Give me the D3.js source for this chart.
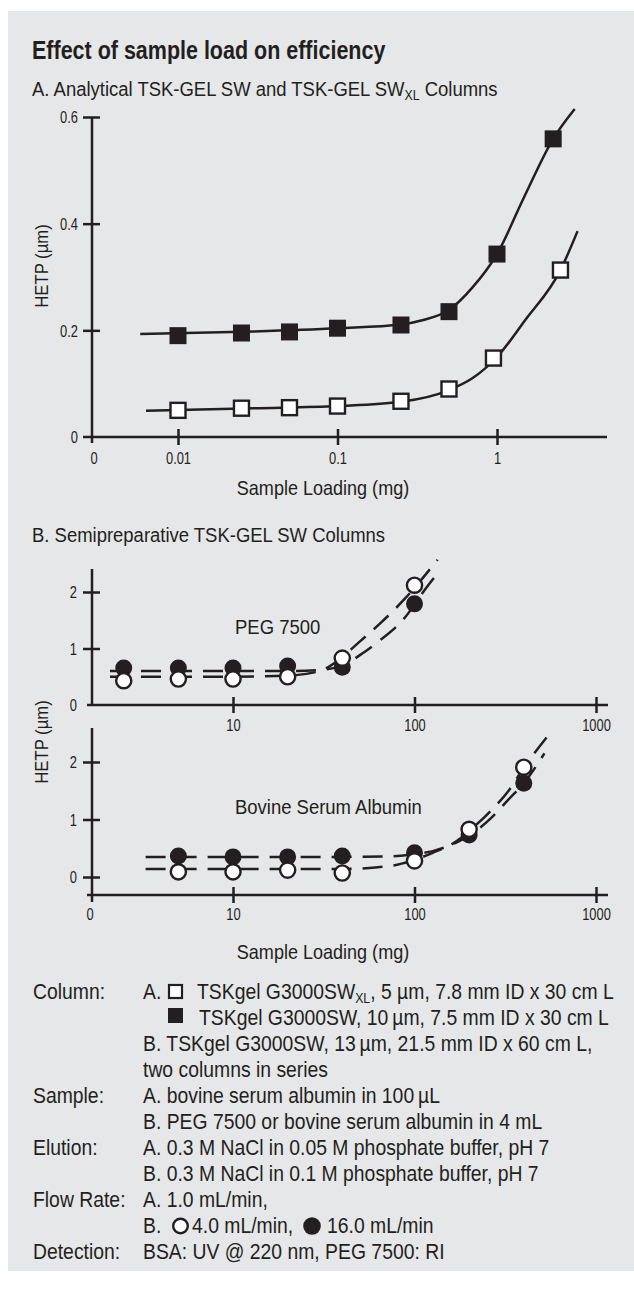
<!DOCTYPE html>
<html>
<head>
<meta charset="utf-8">
<script src="https://cdn.jsdelivr.net/npm/d3@7"></script>
<style>
  body { margin: 0; background: #fff; }
  svg text { font-family: "Liberation Sans", Arial, sans-serif; fill: #231f20; }
</style>
</head>
<body>
<div id="chart"></div>
<script>
// ---- data ----
// A. analytical columns (sample load in mg, HETP)
var loadSW = [0.01, 0.025, 0.05, 0.1, 0.25, 0.5, 1, 2.25];
var hetpSW = [0.19, 0.195, 0.197, 0.204, 0.21, 0.235, 0.343, 0.559];
var loadSWXL = [0.01, 0.025, 0.05, 0.1, 0.25, 0.5, 0.95, 2.5];
var hetpSWXL = [0.05, 0.054, 0.055, 0.058, 0.067, 0.09, 0.148, 0.313];
// fitted curves
var fitSW = [[0.0058, 0.193], [0.03, 0.198], [0.1, 0.204], [0.25, 0.211], [0.34, 0.219], [0.5, 0.238], [0.7, 0.28], [1, 0.343], [1.48, 0.45], [2.25, 0.559], [3.07, 0.615]];
var fitSWXL = [[0.0063, 0.049], [0.03, 0.054], [0.1, 0.058], [0.25, 0.066], [0.5, 0.088], [0.7, 0.11], [1, 0.15], [1.5, 0.219], [2.5, 0.313], [3.2, 0.386]];

// B. semipreparative, PEG 7500
var loadPEG = [2.5, 5, 10, 20, 40, 100];
var pegLow = [0.43, 0.46, 0.46, 0.5, 0.83, 2.12];    // 4.0 mL/min (open)
var pegHigh = [0.655, 0.655, 0.655, 0.69, 0.67, 1.79]; // 16.0 mL/min (filled)
var pegLowFit = [[2.1, 0.5], [10, 0.5], [20, 0.52], [30, 0.6], [37, 0.76], [49, 1.1], [66, 1.47], [89, 1.89], [134, 2.57]];
var pegHighFit = [[2.1, 0.6], [10, 0.6], [20, 0.6], [30, 0.62], [40, 0.7], [52, 0.92], [63, 1.12], [86, 1.5], [119, 2.12], [139, 2.39]];

// B. semipreparative, bovine serum albumin
var loadBSA = [5, 10, 20, 40, 100, 200, 400];
var bsaLow = [0.09, 0.09, 0.12, 0.07, 0.28, 0.83, 1.91];
var bsaHigh = [0.365, 0.35, 0.35, 0.365, 0.42, 0.73, 1.63];
var bsaLowFit = [[3.3, 0.14], [40, 0.14], [76, 0.2], [100, 0.3], [126, 0.42], [170, 0.62], [200, 0.8], [263, 1.15], [330, 1.5], [400, 1.9], [557, 2.5]];
var bsaHighFit = [[3.3, 0.35], [40, 0.35], [76, 0.36], [100, 0.4], [126, 0.45], [170, 0.6], [200, 0.72], [263, 1.02], [330, 1.35], [400, 1.63], [520, 2.15]];

var ticksA_x = [0.01, 0.1, 1];
var ticksA_y = [0.2, 0.4, 0.6];
var ticksB_x = [10, 100, 1000];
var ticksB_y = [1, 2];

var legendLabels = ["Column:", "", "", "", "Sample:", "", "Elution:", "", "Flow Rate:", "", "Detection:"];

var INK = "#231f20";
var SX = 0.88; // horizontal squeeze, the original uses a condensed face

var svg = d3.select("#chart").append("svg")
  .attr("width", 634)
  .attr("height", 1289);

// grey panel
svg.append("rect")
  .attr("x", 8).attr("y", 11)
  .attr("width", 626).attr("height", 1260)
  .attr("fill", "#e6e7e8");

function txt(x, y, s, size, opts) {
  opts = opts || {};
  var sx = opts.sx || SX;
  var t = svg.append("text")
    .attr("transform", "translate(" + x + "," + y + ")" + (opts.rot ? " rotate(" + opts.rot + ")" : "") + " scale(" + sx + ",1)")
    .style("font-size", size + "px")
    .text(s);
  if (opts.anchor) t.attr("text-anchor", opts.anchor);
  if (opts.bold) t.style("font-weight", "bold");
  return t;
}

function hline(x1, x2, y) {
  svg.append("line").attr("x1", x1).attr("x2", x2).attr("y1", y).attr("y2", y)
    .attr("stroke", INK).attr("stroke-width", 2.5);
}
function vline(x, y1, y2) {
  svg.append("line").attr("x1", x).attr("x2", x).attr("y1", y1).attr("y2", y2)
    .attr("stroke", INK).attr("stroke-width", 2.5);
}

var TICK = 16.5, TSX = 0.78;
function styleAxis(g, off, horizontal) {
  g.attr("font-family", null).attr("font-size", null);
  g.select(".domain").remove();
  g.selectAll(".tick line").attr("stroke", INK).attr("stroke-width", 2.5);
  var tx = g.selectAll(".tick text")
    .attr("x", 0).attr("y", 0).attr("dy", "0.36em")
    .style("font-size", TICK + "px").attr("fill", INK);
  if (horizontal) {
    g.selectAll(".tick line").attr("y1", -8).attr("y2", 8);
    tx.attr("transform", "translate(0," + off + ") scale(" + TSX + ",1)");
  } else {
    g.selectAll(".tick line").attr("x1", 8).attr("x2", -9);
    tx.attr("transform", "translate(" + off + ",0) scale(" + TSX + ",1)");
  }
}

// titles
txt(32, 59, "Effect of sample load on efficiency", 25, { bold: true, sx: 0.86 });
var sub = txt(32, 96, "A. Analytical TSK-GEL SW and TSK-GEL SW", 21);
sub.append("tspan").attr("dy", 4).style("font-size", "14px").text("XL");
sub.append("tspan").attr("dy", -4).text(" Columns");

// ================= chart A =================
var xA = d3.scaleLog().domain([0.01, 1]).range([178, 497]);
var yA = d3.scaleLinear().domain([0, 0.6]).range([437, 117]);

hline(83, 607, yA(0));
vline(92, yA(0.6), 443);

svg.append("g")
  .attr("transform", "translate(0," + yA(0) + ")")
  .call(d3.axisBottom(xA).tickValues(ticksA_x).tickFormat(d3.format("~g")))
  .call(styleAxis, 21, true);

svg.append("g")
  .attr("transform", "translate(92,0)")
  .call(d3.axisLeft(yA).tickValues(ticksA_y).tickFormat(d3.format(".1f")))
  .call(styleAxis, -14, false);

txt(78, yA(0) + 6, "0", TICK, { anchor: "end", sx: TSX });
txt(94, yA(0) + 27, "0", TICK, { anchor: "middle", sx: TSX });

var lineA = d3.line()
  .x(function (d) { return xA(d[0]); })
  .y(function (d) { return yA(d[1]); })
  .curve(d3.curveMonotoneX);

[fitSW, fitSWXL].forEach(function (f) {
  svg.append("path").attr("d", lineA(f))
    .attr("fill", "none").attr("stroke", INK).attr("stroke-width", 2.5);
});

svg.selectAll(".sqFilled")
  .data(loadSW.map(function (x, i) { return [x, hetpSW[i]]; }))
  .enter().append("rect")
  .attr("x", function (d) { return xA(d[0]) - 8.5; })
  .attr("y", function (d) { return yA(d[1]) - 8.5; })
  .attr("width", 17).attr("height", 17)
  .attr("fill", INK);

svg.selectAll(".sqOpen")
  .data(loadSWXL.map(function (x, i) { return [x, hetpSWXL[i]]; }))
  .enter().append("rect")
  .attr("x", function (d) { return xA(d[0]) - 7.5; })
  .attr("y", function (d) { return yA(d[1]) - 7.5; })
  .attr("width", 15).attr("height", 15)
  .attr("fill", "#fff").attr("stroke", INK).attr("stroke-width", 2.4);

txt(48, 266, "HETP (µm)", 19, { anchor: "middle", rot: -90 });
txt(323, 495, "Sample Loading (mg)", 20.5, { anchor: "middle" });

// ================= chart B =================
txt(32, 542, "B. Semipreparative TSK-GEL SW Columns", 21);

var xB = d3.scaleLog().domain([10, 1000]).range([233, 596]);
var yB1 = d3.scaleLinear().domain([0, 2]).range([705, 592]);
var yB2 = d3.scaleLinear().domain([0, 2]).range([877, 762]);

// top panel axes
hline(87, 608, yB1(0));
vline(92, 569, yB1(0));
svg.append("g")
  .attr("transform", "translate(0," + yB1(0) + ")")
  .call(d3.axisBottom(xB).tickValues(ticksB_x).tickFormat(d3.format("d")))
  .call(styleAxis, 20, true);
svg.append("g")
  .attr("transform", "translate(92,0)")
  .call(d3.axisLeft(yB1).tickValues(ticksB_y).tickFormat(d3.format("d")))
  .call(styleAxis, -15, false);
txt(77, yB1(0) + 6, "0", TICK, { anchor: "end", sx: TSX });

// bottom panel axes
hline(87, 608, 895);
vline(92, 728, 902);
svg.append("g")
  .attr("transform", "translate(0,895)")
  .call(d3.axisBottom(xB).tickValues(ticksB_x).tickFormat(d3.format("d")))
  .call(styleAxis, 19, true);
svg.append("g")
  .attr("transform", "translate(92,0)")
  .call(d3.axisLeft(yB2).tickValues([0].concat(ticksB_y)).tickFormat(d3.format("d")))
  .call(styleAxis, -15, false);
txt(90, 920, "0", TICK, { anchor: "middle", sx: TSX });

function drawPanel(yS, fits, xs, low, high) {
  var ln = d3.line()
    .x(function (d) { return xB(d[0]); })
    .y(function (d) { return yS(d[1]); })
    .curve(d3.curveMonotoneX);
  fits.forEach(function (f) {
    svg.append("path").attr("d", ln(f))
      .attr("fill", "none").attr("stroke", INK).attr("stroke-width", 2.5)
      .attr("stroke-dasharray", "20,11");
  });
  var g = svg.append("g");
  g.selectAll(".filled").data(xs.map(function (x, i) { return [x, high[i]]; }))
    .enter().append("circle")
    .attr("cx", function (d) { return xB(d[0]); })
    .attr("cy", function (d) { return yS(d[1]); })
    .attr("r", 8.5).attr("fill", INK);
  g.selectAll(".open").data(xs.map(function (x, i) { return [x, low[i]]; }))
    .enter().append("circle")
    .attr("cx", function (d) { return xB(d[0]); })
    .attr("cy", function (d) { return yS(d[1]); })
    .attr("r", 7.6).attr("fill", "#fff").attr("stroke", INK).attr("stroke-width", 2.4);
}

drawPanel(yB1, [pegLowFit, pegHighFit], loadPEG, pegLow, pegHigh);
drawPanel(yB2, [bsaLowFit, bsaHighFit], loadBSA, bsaLow, bsaHigh);

txt(235, 634, "PEG 7500", 21);
txt(235, 814, "Bovine Serum Albumin", 21);

txt(48, 742, "HETP (µm)", 19, { anchor: "middle", rot: -90 });
txt(323, 959, "Sample Loading (mg)", 20.5, { anchor: "middle" });

// ================= legend =================
var LS = 22, LX = 143;
var rowY = function (k) { return 992 + 26 * k + 7; };
legendLabels.forEach(function (s, k) {
  if (s) txt(33, rowY(k), s, LS);
});

txt(LX, rowY(0), "A.", LS);
svg.append("rect").attr("x", 169).attr("y", 985).attr("width", 13).attr("height", 13)
  .attr("fill", "#fff").attr("stroke", INK).attr("stroke-width", 2.2);
var r0 = txt(197, rowY(0), "TSKgel G3000SW", LS);
r0.append("tspan").attr("dy", 4).style("font-size", "14px").text("XL");
r0.append("tspan").attr("dy", -4).text(", 5 µm, 7.8 mm ID x 30 cm L");
svg.append("rect").attr("x", 168).attr("y", 1008).attr("width", 15).attr("height", 15).attr("fill", INK);
txt(199, rowY(1), "TSKgel G3000SW, 10\u2009µm, 7.5 mm ID x 30 cm L", LS);
txt(LX, rowY(2), "B. TSKgel G3000SW, 13\u2009µm, 21.5 mm ID x 60 cm L,", LS);
txt(LX, rowY(3), "two columns in series", LS);
txt(LX, rowY(4), "A. bovine serum albumin in 100\u2009µL", LS);
txt(LX, rowY(5), "B. PEG 7500 or bovine serum albumin in 4 mL", LS);
txt(LX, rowY(6), "A. 0.3 M NaCl in 0.05 M phosphate buffer, pH 7", LS);
txt(LX, rowY(7), "B. 0.3 M NaCl in 0.1 M phosphate buffer, pH 7", LS);
txt(LX, rowY(8), "A. 1.0 mL/min,", LS);
txt(LX, rowY(9), "B.", LS);
svg.append("circle").attr("cx", 180.5).attr("cy", 992 + 26 * 9).attr("r", 7.3)
  .attr("fill", "#fff").attr("stroke", INK).attr("stroke-width", 2.4);
txt(192, rowY(9), "4.0 mL/min,", LS);
svg.append("circle").attr("cx", 312).attr("cy", 992 + 26 * 9).attr("r", 8.8).attr("fill", INK);
txt(327, rowY(9), "16.0 mL/min", LS);
txt(LX, rowY(10), "BSA: UV @ 220 nm, PEG 7500: RI", LS);
</script>
</body>
</html>
